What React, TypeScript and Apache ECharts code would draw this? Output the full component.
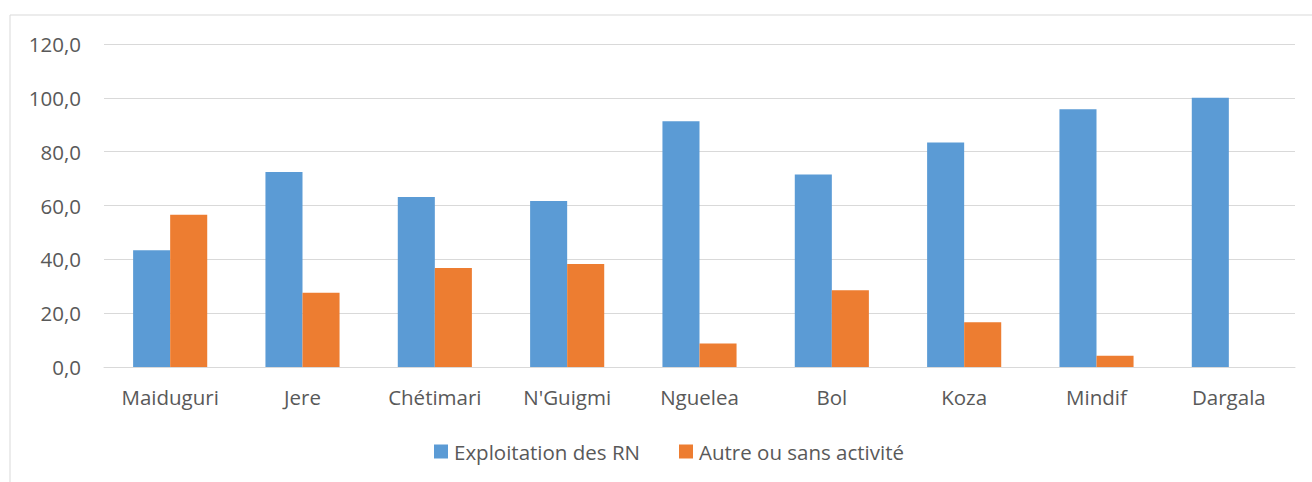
import React, { useEffect, useRef } from "react";
import * as echarts from "echarts";

const categories = ["Maiduguri", "Jere", "Chétimari", "N'Guigmi", "Nguelea", "Bol", "Koza", "Mindif", "Dargala"];
const exploitation = [43.4, 72.4, 63.2, 61.7, 91.3, 71.5, 83.4, 95.8, 100.0];
const autre = [56.6, 27.6, 36.8, 38.3, 8.7, 28.5, 16.6, 4.2, 0];
const seriesNames = ["Exploitation des RN", "Autre ou sans activité"];

export default function App() {
  const ref = useRef<HTMLDivElement>(null);
  useEffect(() => {
    document.body.style.margin = "0";
    const chart = echarts.init(ref.current!, null, { renderer: "svg" });
    const font = "'Open Sans', 'Noto Sans', sans-serif";
    chart.setOption({
      animation: false,
      backgroundColor: "#ffffff",
      textStyle: { fontFamily: font },
      graphic: [
        {
          type: "rect",
          shape: { x: 10, y: 15, width: 1320, height: 480 },
          style: { fill: "none", stroke: "#d9d9d9", lineWidth: 1 },
          silent: true,
          z: -1,
        },
      ],
      grid: { left: 104, right: 17, top: 44, bottom: 115, containLabel: false },
      legend: {
        top: 441,
        left: 434,
        padding: 0,
        itemWidth: 14,
        itemHeight: 14,
        itemGap: 39,
        icon: "rect",
        textStyle: { fontSize: 20.5, color: "#595959", fontFamily: font, padding: [0, 0, 0, 1] },
        data: seriesNames,
      },
      xAxis: {
        type: "category",
        data: categories,
        axisLine: { lineStyle: { color: "#d9d9d9", width: 1 } },
        axisTick: { show: false },
        axisLabel: { color: "#595959", fontSize: 20.5, margin: 19, fontFamily: font },
      },
      yAxis: {
        type: "value",
        min: 0,
        max: 120,
        interval: 20,
        axisLabel: {
          color: "#595959",
          fontSize: 20.5,
          margin: 23,
          fontFamily: font,
          formatter: (v: number) => v.toFixed(1).replace(".", ","),
        },
        splitLine: { lineStyle: { color: "#d9d9d9", width: 1 } },
        axisLine: { show: false },
        axisTick: { show: false },
      },
      series: [
        {
          name: seriesNames[0],
          type: "bar",
          data: exploitation,
          barGap: "0%",
          barCategoryGap: "44%",
          itemStyle: { color: "#5b9bd5" },
        },
        {
          name: seriesNames[1],
          type: "bar",
          data: autre,
          barGap: "0%",
          barCategoryGap: "44%",
          itemStyle: { color: "#ed7d31" },
        },
      ],
    });
    return () => chart.dispose();
  }, []);
  return <div ref={ref} style={{ width: 1312, height: 482 }} />;
}
